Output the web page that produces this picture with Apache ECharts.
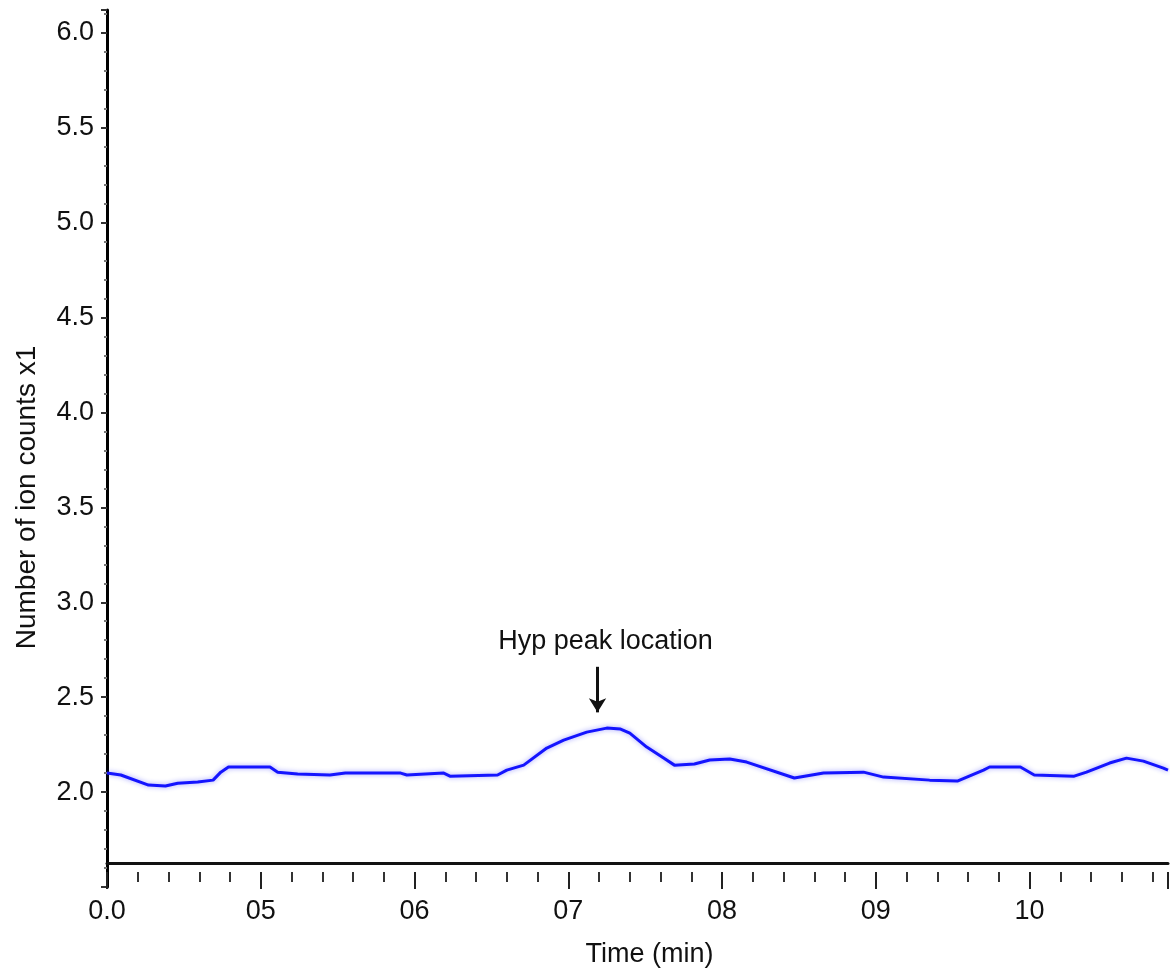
<!DOCTYPE html>
<html>
<head>
<meta charset="utf-8">
<script src="https://cdn.jsdelivr.net/npm/echarts@6/dist/echarts.min.js"></script>
<style>
html,body{margin:0;padding:0;background:#fff;}
#chart{width:1171px;height:973px;}
</style>
</head>
<body>
<div id="chart"></div>
<script>
// Time (min) and ion counts
var times = [4.00,4.09,4.27,4.38,4.46,4.59,4.69,4.74,4.79,5.06,5.11,5.24,5.45,5.55,5.91,5.95,6.19,6.23,6.54,6.60,6.71,6.86,6.97,7.12,7.25,7.34,7.40,7.51,7.62,7.69,7.82,7.92,8.05,8.16,8.47,8.66,8.92,9.05,9.35,9.53,9.70,9.74,9.94,10.03,10.29,10.37,10.52,10.63,10.74,10.87,10.90];
var counts = [2.100,2.090,2.037,2.032,2.047,2.053,2.063,2.105,2.132,2.132,2.105,2.095,2.090,2.100,2.100,2.090,2.100,2.084,2.090,2.116,2.142,2.232,2.274,2.316,2.337,2.332,2.311,2.237,2.179,2.142,2.148,2.169,2.174,2.158,2.074,2.100,2.105,2.079,2.063,2.058,2.116,2.132,2.132,2.090,2.084,2.105,2.153,2.179,2.163,2.126,2.116];
var xTickLabels = {4:'0.0',5:'05',6:'06',7:'07',8:'08',9:'09',10:'10'};
var yTickLabels = [2.0,2.5,3.0,3.5,4.0,4.5,5.0,5.5,6.0];
var annotationText = 'Hyp peak location';
var annotationX = 7.19;
var annotationFrom = 2.66;
var annotationTo = 2.42;

var FONT = '"Liberation Sans", Arial, Helvetica, sans-serif';
var data = times.map(function(t,i){return [t, counts[i]];});

var chart = echarts.init(document.getElementById('chart'));
var XMIN = 4, XMAX = 10.9;
chart.setOption({
  animation:false,
  backgroundColor:'#fff',
  grid:{left:107, right:0, top:10, bottom:86, containLabel:false},
  xAxis:[
    {type:'value', min:XMIN, max:XMAX, interval:1, position:'bottom', offset:-24,
     axisLine:{show:true, onZero:false, lineStyle:{color:'#111', width:3}},
     axisTick:{show:false}, splitLine:{show:false},
     axisLabel:{margin:35, fontSize:27, color:'#111', fontFamily:FONT,
       formatter:function(v){var r=Math.round(v); return Math.abs(v-r)<1e-6 && xTickLabels[r]!==undefined ? xTickLabels[r] : '';}},
     name:'Time (min)', nameLocation:'middle', nameGap:78,
     nameTextStyle:{fontSize:27, color:'#111', fontFamily:FONT, padding:[0,0,0,24]}},
    {type:'value', min:XMIN, max:XMAX, interval:0.2, position:'bottom', offset:-15,
     axisLine:{show:false, onZero:false}, axisLabel:{show:false}, splitLine:{show:false},
     axisTick:{show:true, length:10, lineStyle:{color:'#333', width:2}}},
    {type:'value', min:XMIN, max:XMAX, interval:1, position:'bottom', offset:-15,
     axisLine:{show:false, onZero:false}, axisLabel:{show:false}, splitLine:{show:false},
     axisTick:{show:true, length:17, lineStyle:{color:'#222', width:2}}}
  ],
  yAxis:{type:'value', min:1.5, max:6.12, interval:0.5,
    axisLine:{show:true, onZero:false, lineStyle:{color:'#000', width:3}},
    axisTick:{show:true, length:6, lineStyle:{color:'#333', width:2}},
    minorTick:{show:true, splitNumber:5, length:3, lineStyle:{color:'#777', width:2}},
    splitLine:{show:false},
    axisLabel:{margin:13, fontSize:27, color:'#111', fontFamily:FONT, padding:[10,0,0,0],
      formatter:function(v){
        for(var i=0;i<yTickLabels.length;i++){ if(Math.abs(v-yTickLabels[i])<1e-6) return yTickLabels[i].toFixed(1); }
        return '';
      }},
    name:'Number of ion counts x1', nameLocation:'middle', nameGap:66,
    nameTextStyle:{fontSize:28, color:'#111', fontFamily:FONT, padding:[0,98,0,0]}
  },
  series:[{
    type:'line', xAxisIndex:0, data:data, showSymbol:false, smooth:false,
    lineStyle:{color:'#1414ff', width:3, shadowColor:'rgba(40,40,255,0.45)', shadowBlur:5},
    markLine:{
      silent:true, symbol:['none','arrow'], symbolSize:[13,14],
      lineStyle:{color:'#111', width:3, type:'solid'},
      label:{show:true, position:'start', distance:12, formatter:annotationText,
             fontSize:27, color:'#111', fontFamily:FONT, padding:[0,0,0,16]},
      data:[[{coord:[annotationX, annotationFrom]},{coord:[annotationX, annotationTo]}]]
    }
  }]
});
</script>
</body>
</html>
